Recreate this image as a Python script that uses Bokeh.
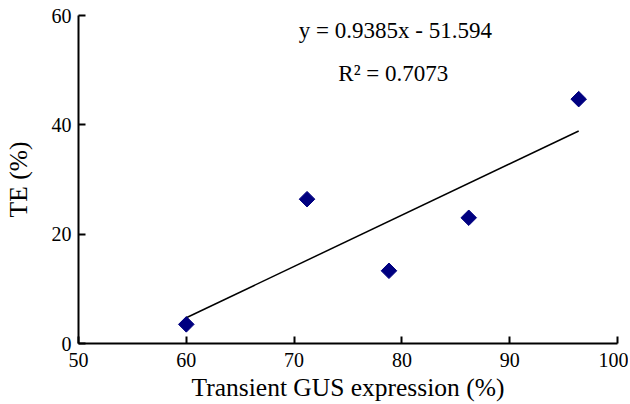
import numpy as np
from bokeh.plotting import figure
from bokeh.models import Range1d, FixedTicker, Label
from bokeh.embed import file_html
from bokeh.resources import INLINE

x_vals = [60.0, 71.2, 78.8, 86.2, 96.4]
y_vals = [3.5, 26.4, 13.3, 23.0, 44.7]
slope = 0.9385
intercept = -51.594
eq_text = "y = 0.9385x - 51.594"
r2_text = "R\u00b2 = 0.7073"
x_ticks = [50, 60, 70, 80, 90, 100]
y_ticks = [0, 20, 40, 60]

FONT = "Liberation Serif"

p = figure(width=628, height=404, output_backend="svg", toolbar_location=None,
           x_range=Range1d(50, 100), y_range=Range1d(0, 60),
           min_border_left=78, min_border_top=15, min_border_right=11, min_border_bottom=60)
p.outline_line_color = None
p.xgrid.visible = False
p.ygrid.visible = False
p.background_fill_color = "white"

# trendline over data range
tx = [min(x_vals), max(x_vals)]
ty = [slope * v + intercept for v in tx]
p.line(tx, ty, line_color="black", line_width=1.5)

p.scatter(x_vals, y_vals, marker="square", angle=np.pi / 4, size=11,
          fill_color="#000080", line_color="#000080")

for ax in (p.xaxis[0], p.yaxis[0]):
    ax.major_tick_in = 7
    ax.major_tick_out = 0
    ax.minor_tick_in = 0
    ax.minor_tick_out = 0
    ax.axis_line_width = 2
    ax.major_tick_line_width = 2
    ax.major_label_text_font = FONT
    ax.major_label_text_font_size = "20px"
    ax.major_label_text_color = "black"
    ax.axis_label_text_font = FONT
    ax.axis_label_text_font_size = "25.5px"
    ax.axis_label_text_font_style = "normal"
    ax.axis_label_text_color = "black"

p.xaxis.ticker = FixedTicker(ticks=x_ticks)
p.yaxis.ticker = FixedTicker(ticks=y_ticks)
p.xaxis.axis_label = "Transient GUS expression (%)"
p.yaxis.axis_label = "TE (%)"
p.xaxis.major_label_standoff = 9
p.yaxis.major_label_standoff = 7
p.xaxis.axis_label_standoff = 3
p.xaxis.axis_label_text_line_height = 0.9
p.yaxis.axis_label_standoff = 16

p.add_layout(Label(x=79.4, y=57.2, text=eq_text, text_font=FONT, text_font_size="23px",
                   text_align="center", text_baseline="middle", text_color="black"))
p.add_layout(Label(x=79.2, y=49.4, text=r2_text, text_font=FONT, text_font_size="23px",
                   text_align="center", text_baseline="middle", text_color="black"))

open("out.html", "w").write(file_html(p, INLINE))
